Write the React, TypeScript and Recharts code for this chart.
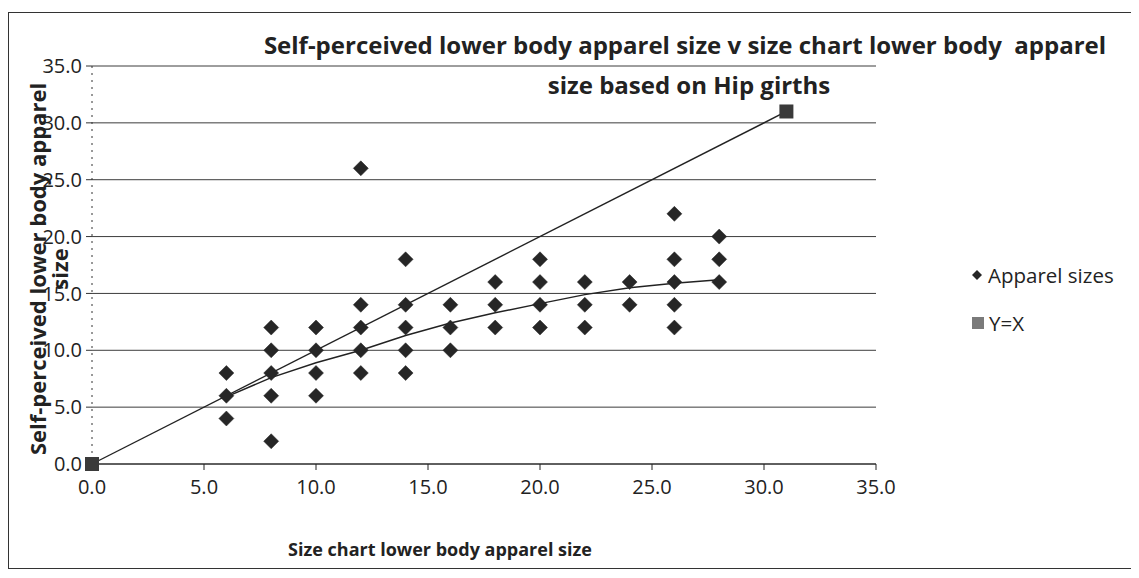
import { ScatterChart, Scatter, XAxis, YAxis, CartesianGrid } from 'recharts';

// size chart sizes (x) and self-perceived sizes reported for each (y)
const chartSizes = [6, 8, 10, 12, 14, 16, 18, 20, 22, 24, 26, 28];
const perceivedSizes = [
  [8, 6, 4],
  [12, 10, 8, 6, 2],
  [12, 10, 8, 6],
  [26, 14, 12, 10, 8],
  [18, 14, 12, 10, 8],
  [14, 12, 10],
  [16, 14, 12],
  [18, 16, 14, 12],
  [16, 14, 12],
  [16, 14],
  [22, 18, 16, 14, 12],
  [20, 18, 16],
];

// trend line
const trendY = [5.9, 7.6, 8.9, 10.0, 11.3, 12.4, 13.3, 14.1, 14.9, 15.5, 15.9, 16.2];

// Y=X reference series
const identityX = [0, 31];
const identityY = [0, 31];

const axisTicks = [0, 5, 10, 15, 20, 25, 30, 35];

const apparelPoints = chartSizes.flatMap((x, i) => perceivedSizes[i].map((y) => ({ x, y })));
const trendPoints = chartSizes.map((x, i) => ({ x, y: trendY[i] }));
const identityPoints = identityX.map((x, i) => ({ x, y: identityY[i] }));

const FONT = '"Open Sans", "Noto Sans", sans-serif';

const Diamond = (props: any) => {
  const { cx, cy } = props;
  const r = 7.5;
  return (
    <path
      d={`M${cx},${cy - r} L${cx + r},${cy} L${cx},${cy + r} L${cx - r},${cy} Z`}
      fill="#262626"
      stroke="#262626"
      strokeWidth={0.5}
    />
  );
};

const Square = (props: any) => {
  const { cx, cy } = props;
  return <rect x={cx - 7} y={cy - 7} width={14} height={14} fill="#3a3a3a" />;
};

const NoDot = () => null;

const YLabel = (props: any) => {
  const { viewBox } = props;
  const cy = viewBox.y + viewBox.height / 2 + 4;
  return (
    <g fontFamily={FONT} fontWeight={700} fontSize={22} fill="#222">
      <text x={29} y={cy} textAnchor="middle" transform={`rotate(-90 29 ${cy})`} dominantBaseline="central">
        Self-perceived lower body apparel
      </text>
      <text x={51} y={cy} textAnchor="middle" transform={`rotate(-90 51 ${cy})`} dominantBaseline="central">
        size
      </text>
    </g>
  );
};

export default function App() {
  return (
    <div style={{ position: 'relative', width: 1131, height: 570, background: '#fff' }}>
      <div
        style={{
          position: 'absolute',
          left: 0,
          top: 4,
          width: 1126,
          height: 555,
          border: '1px solid #333',
        }}
      />
      <div
        style={{
          position: 'absolute',
          left: 177,
          top: 17,
          width: 1000,
          textAlign: 'center',
          fontFamily: FONT,
          fontWeight: 700,
          fontSize: 24,
          lineHeight: '40px',
          color: '#222',
        }}
      >
        <div>Self-perceived lower body apparel size v size chart lower body&nbsp; apparel</div>
        <div style={{ paddingLeft: 8 }}>size based on Hip girths</div>
      </div>

      <div style={{ position: 'absolute', left: 0, top: 0 }}>
        <ScatterChart width={1123} height={562} margin={{ top: 58, right: 255, bottom: 76, left: 24 }}>
          <CartesianGrid vertical={false} stroke="#3c3c3c" strokeWidth={1} />
          <XAxis
            type="number"
            dataKey="x"
            domain={[0, 35]}
            ticks={axisTicks}
            tickFormatter={(v: number) => v.toFixed(1)}
            height={30}
            stroke="#222"
            tickSize={6}
            tickMargin={10}
            tick={{ fontFamily: FONT, fontSize: 20, fill: '#222' }}
            label={{
              value: 'Size chart lower body apparel size',
              position: 'insideBottom',
              offset: -62,
              dx: -44,
              style: { fontFamily: FONT, fontWeight: 700, fontSize: 18, fill: '#222' },
            }}
          />
          <YAxis
            type="number"
            dataKey="y"
            domain={[0, 35]}
            ticks={axisTicks}
            tickFormatter={(v: number) => v.toFixed(1)}
            width={60}
            axisLine={{ stroke: '#333', strokeDasharray: '2 5' }}
            tickLine={{ stroke: '#333' }}
            tickSize={6}
            tickMargin={4}
            tick={{ fontFamily: FONT, fontSize: 20, fill: '#222' }}
            label={<YLabel />}
          />
          <Scatter
            name="Trend"
            data={trendPoints}
            line={{ stroke: '#222', strokeWidth: 1.4 }}
            lineType="joint"
            shape={NoDot}
            isAnimationActive={false}
          />
          <Scatter
            name="Y=X"
            data={identityPoints}
            line={{ stroke: '#222', strokeWidth: 1.4 }}
            lineType="joint"
            shape={Square}
            isAnimationActive={false}
          />
          <Scatter name="Apparel sizes" data={apparelPoints} shape={Diamond} isAnimationActive={false} />
        </ScatterChart>
      </div>

      <div
        style={{
          position: 'absolute',
          left: 963,
          top: 253,
          fontFamily: FONT,
          fontSize: 20.5,
          color: '#222',
          lineHeight: '28px',
        }}
      >
        <div style={{ display: 'flex', alignItems: 'center', height: 28 }}>
          <svg width={12} height={12} style={{ marginRight: 5 }}>
            <path d="M6,1 L11,6 L6,11 L1,6 Z" fill="#262626" />
          </svg>
          Apparel sizes
        </div>
        <div style={{ display: 'flex', alignItems: 'center', height: 28, marginTop: 20 }}>
          <svg width={14} height={14} style={{ marginRight: 4 }}>
            <rect x={1} y={1} width={12} height={12} fill="#7a7a7a" />
          </svg>
          Y=X
        </div>
      </div>
    </div>
  );
}
